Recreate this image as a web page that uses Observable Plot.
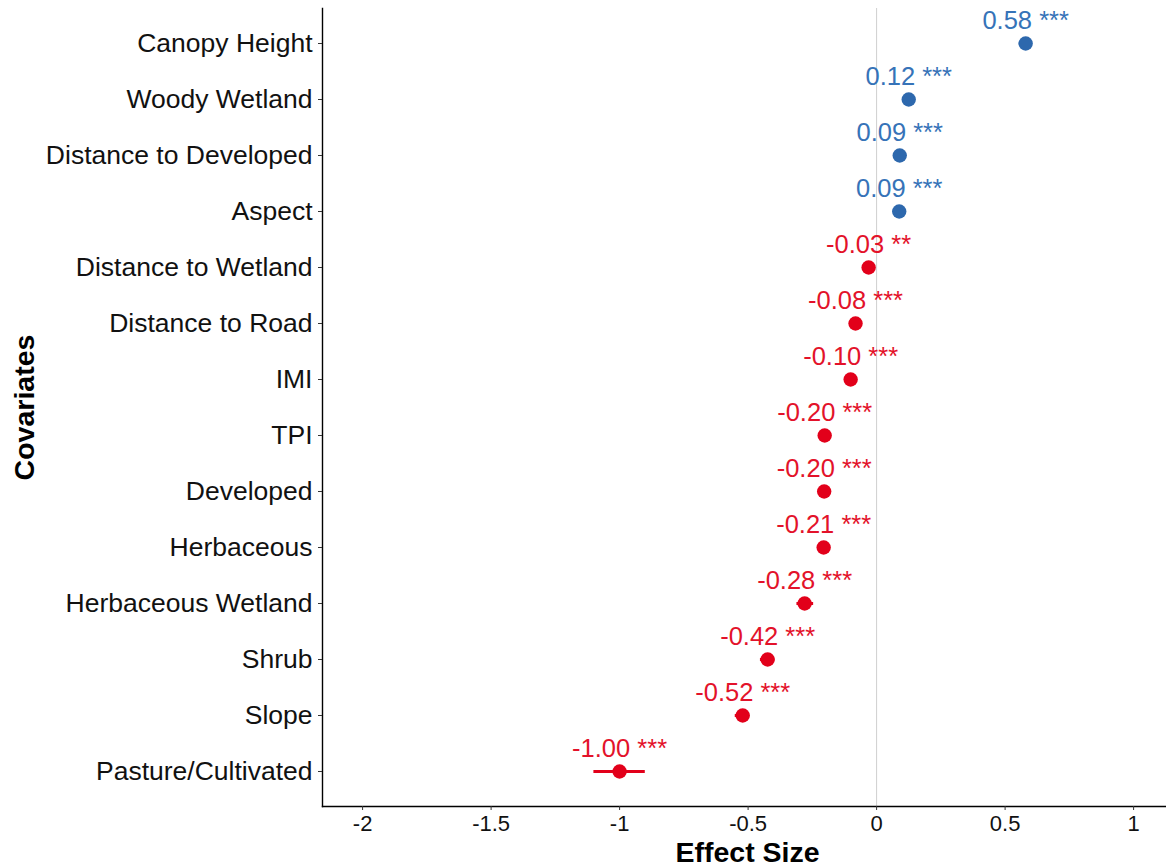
<!DOCTYPE html>
<html>
<head>
<meta charset="utf-8">
<script src="https://cdn.jsdelivr.net/npm/d3@7"></script>
<script src="https://cdn.jsdelivr.net/npm/@observablehq/plot@0.6"></script>
<style>
  html, body { margin: 0; padding: 0; background: #fff; }
  #chart svg { display: block; }
</style>
</head>
<body>
<div id="chart"></div>
<script>
const covariates = ["Canopy Height","Woody Wetland","Distance to Developed","Aspect","Distance to Wetland","Distance to Road","IMI","TPI","Developed","Herbaceous","Herbaceous Wetland","Shrub","Slope","Pasture/Cultivated"];
const effects = [0.58, 0.125, 0.09, 0.088, -0.031, -0.082, -0.101, -0.202, -0.204, -0.206, -0.28, -0.424, -0.521, -1.00];
const ciLow  = [0.555, 0.115, 0.08, 0.078, -0.04, -0.092, -0.111, -0.212, -0.214, -0.216, -0.31, -0.452, -0.55, -1.10];
const ciHigh = [0.605, 0.135, 0.10, 0.098, -0.022, -0.072, -0.091, -0.192, -0.194, -0.196, -0.245, -0.396, -0.494, -0.90];
const labels = ["0.58","0.12","0.09","0.09","-0.03","-0.08","-0.10","-0.20","-0.20","-0.21","-0.28","-0.42","-0.52","-1.00"];
const stars  = ["***","***","***","***","**","***","***","***","***","***","***","***","***","***"];
const xTicks = [-2, -1.5, -1, -0.5, 0, 0.5, 1];
const xTickLabels = ["-2","-1.5","-1","-0.5","0","0.5","1"];

const data = covariates.map((c, i) => ({
  name: c, value: effects[i], lo: ciLow[i], hi: ciHigh[i],
  label: labels[i] + " " + stars[i],
  pos: effects[i] > 0
}));

const blueDot = "#2d68ad", blueText = "#3673b8";
const redDot = "#e2001a", redText = "#e3122a";
const font = "'Liberation Sans', Arial, Helvetica, sans-serif";

const chart = Plot.plot({
  width: 1166,
  height: 867,
  marginLeft: 322,
  marginRight: 0,
  marginTop: 8,
  marginBottom: 61,
  style: { fontFamily: font, background: "#fff", color: "#000", overflow: "visible" },
  x: { domain: [-2.156, 1.128] },
  y: { domain: covariates, type: "point", padding: 0.6 },
  marks: [
    Plot.ruleX([0], { stroke: "#cfcfcf", strokeWidth: 1 }),
    Plot.frame({ anchor: "left", stroke: "#000", strokeWidth: 1.4 }),
    Plot.frame({ anchor: "bottom", stroke: "#000", strokeWidth: 1.4 }),
    Plot.axisX({ ticks: xTicks, tickFormat: (d) => xTickLabels[xTicks.indexOf(d)], tickSize: 4, tickPadding: 5, fontSize: 22, label: null, stroke: "#333", color: "#111" }),
    Plot.axisY({ tickSize: 4, tickPadding: 6, fontSize: 26.5, label: null, stroke: "#333", color: "#111" }),
    Plot.ruleY(data, { y: "name", x1: "lo", x2: "hi", stroke: (d) => d.pos ? blueDot : redDot, strokeWidth: 3 }),
    Plot.dot(data, { y: "name", x: "value", r: 7.2, fill: (d) => d.pos ? blueDot : redDot, stroke: "none" }),
    Plot.text(data, { y: "name", x: "value", text: "label", dy: -23, fontSize: 25.5, fill: (d) => d.pos ? blueText : redText }),
    Plot.text(["Effect Size"], { frameAnchor: "bottom", lineAnchor: "middle", textAnchor: "middle", dx: 3, dy: 46, fontSize: 28.5, fontWeight: "bold", fill: "#000" }),
    Plot.text(["Covariates"], { frameAnchor: "left", lineAnchor: "middle", textAnchor: "middle", rotate: -90, dx: -298, fontSize: 28.5, fontWeight: "bold", fill: "#000" })
  ]
});
document.getElementById("chart").appendChild(chart);
</script>
</body>
</html>
